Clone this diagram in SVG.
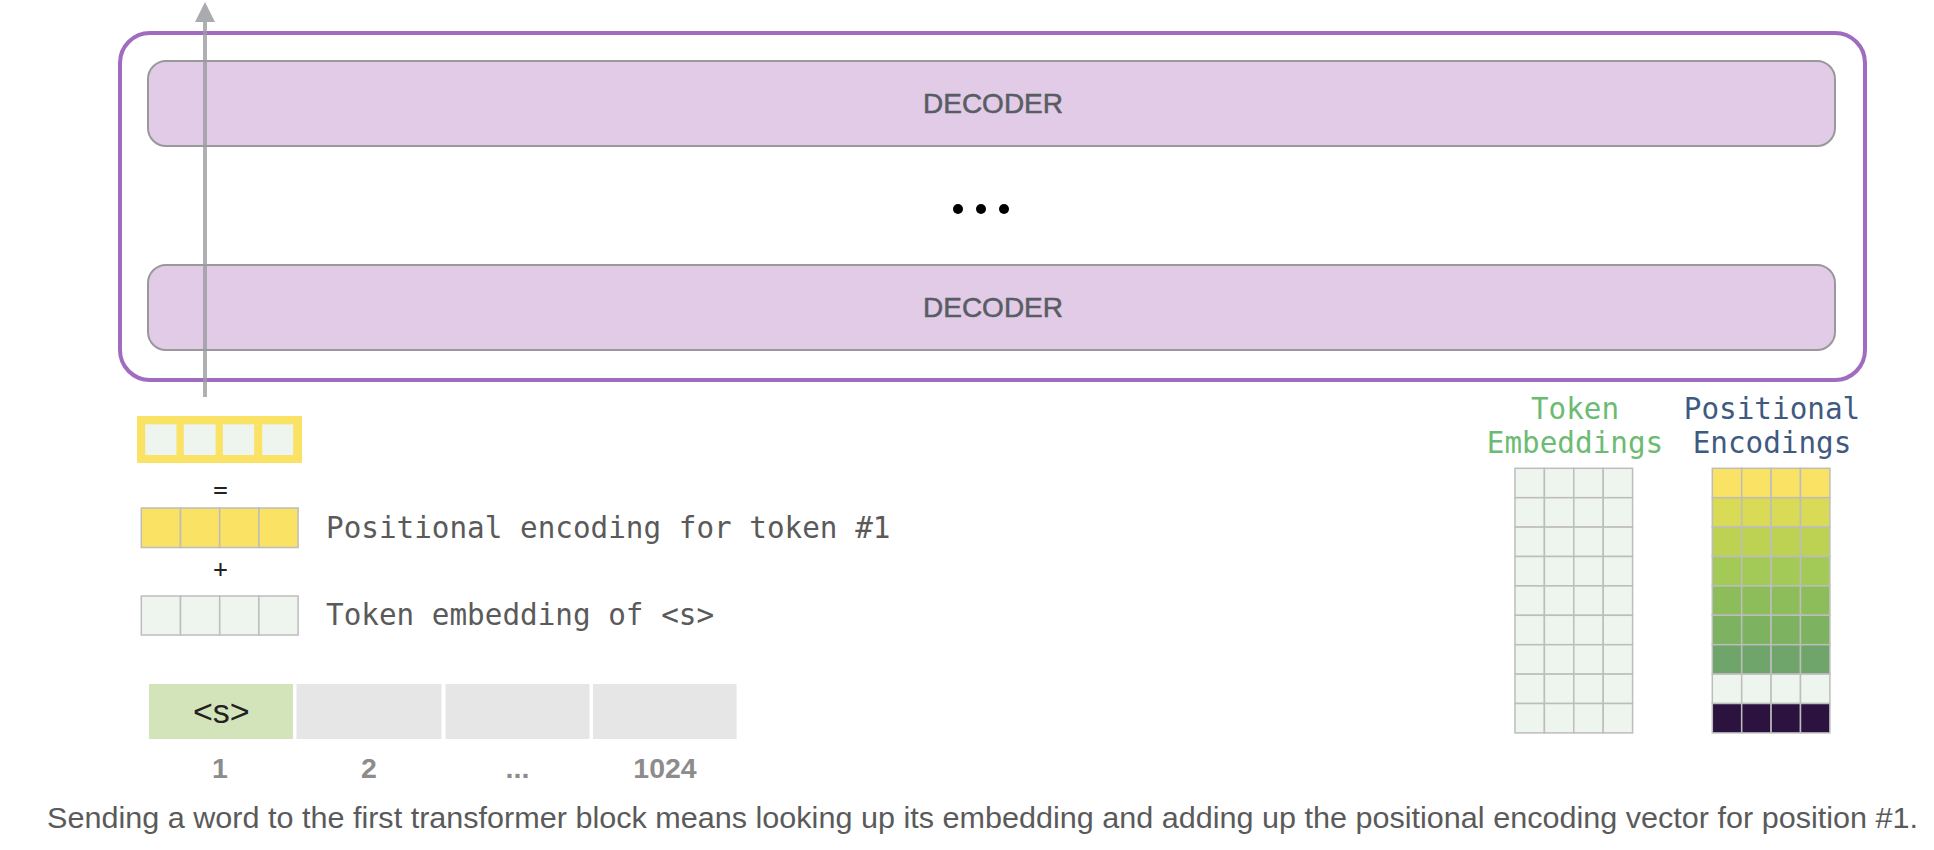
<svg xmlns="http://www.w3.org/2000/svg" width="1934" height="850" viewBox="0 0 1934 850">
<defs>
<style>
.dec{fill:#e1cbe7;stroke:#999;stroke-width:2}
.dectxt{font-family:"Liberation Sans",Arial,sans-serif;font-size:28px;fill:#585c63;stroke:#585c63;stroke-width:0.5;text-anchor:middle}
.mono{font-family:"DejaVu Sans Mono","Liberation Mono",monospace;font-size:29.3px}
.lbl{fill:#5a5a5a}
.num{font-family:"Liberation Sans",Arial,sans-serif;font-size:28.5px;font-weight:bold;fill:#8c8c8c;text-anchor:middle}
.emb{fill:#eef4ee;stroke:#bdbdbd;stroke-width:1.5}
.pe{stroke:#bdbdbd;stroke-width:1.5}
</style>
<marker id="ah" markerWidth="5" markerHeight="5" refX="4" refY="2.5" orient="auto" markerUnits="strokeWidth">
<path d="M0,0 L5,2.5 L0,5 z" fill="#a9abae"/>
</marker>
</defs>
<rect width="1934" height="850" fill="#fff"/>

<g id="stack">
<rect x="120" y="33" width="1745" height="347" rx="30" fill="none" stroke="#a06cc0" stroke-width="4"/>
</g>
<g id="decoder1">
<rect class="dec" x="148" y="61" width="1687" height="85" rx="18"/>
<text class="dectxt" x="993" y="113">DECODER</text>
</g>
<g id="ellipsis">
<circle cx="958" cy="209" r="5" fill="#000"/>
<circle cx="981" cy="209" r="5" fill="#000"/>
<circle cx="1004" cy="209" r="5" fill="#000"/>
</g>
<g id="decoder2">
<rect class="dec" x="148" y="265" width="1687" height="85" rx="18"/>
<text class="dectxt" x="993" y="317">DECODER</text>
</g>

<g id="connectors">
<line x1="205" y1="397" x2="205" y2="6" stroke="#9a9c9f" stroke-opacity="0.8" stroke-width="4" marker-end="url(#ah)"/>
</g>

<g id="output-vector">
<rect x="137" y="416" width="165" height="47" fill="#f9e264"/>
<rect x="145.2" y="424.3" width="31.3" height="30.7" fill="#eef4ee"/>
<rect x="183.8" y="424.3" width="31.8" height="30.7" fill="#eef4ee"/>
<rect x="222.8" y="424.3" width="31.4" height="30.7" fill="#eef4ee"/>
<rect x="262.2" y="424.3" width="31" height="30.7" fill="#eef4ee"/>
</g>
<g id="equals">
<text x="220.5" y="498" font-family="DejaVu Sans Mono,monospace" font-size="24" fill="#222" text-anchor="middle">=</text>
</g>
<g id="pos-enc-vector">
<rect class="pe" x="141.3" y="508" width="39.2" height="39.5" fill="#f9e264"/>
<rect class="pe" x="180.5" y="508" width="39.2" height="39.5" fill="#f9e264"/>
<rect class="pe" x="219.7" y="508" width="39.2" height="39.5" fill="#f9e264"/>
<rect class="pe" x="258.9" y="508" width="39.2" height="39.5" fill="#f9e264"/>
<text class="mono lbl" x="326" y="538">Positional encoding for token #1</text>
</g>
<g id="plus">
<text x="220.5" y="577" font-family="DejaVu Sans Mono,monospace" font-size="24" fill="#222" text-anchor="middle">+</text>
</g>
<g id="token-emb-vector">
<rect class="emb" x="141.3" y="596" width="39.2" height="39" />
<rect class="emb" x="180.5" y="596" width="39.2" height="39" />
<rect class="emb" x="219.7" y="596" width="39.2" height="39" />
<rect class="emb" x="258.9" y="596" width="39.2" height="39" />
<text class="mono lbl" x="326" y="625">Token embedding of &lt;s&gt;</text>
</g>

<g id="token-sequence">
<rect x="149" y="684" width="144" height="55" fill="#d3e4bb"/>
<rect x="296.5" y="684" width="145" height="55" fill="#e6e6e6"/>
<rect x="445.5" y="684" width="144" height="55" fill="#e6e6e6"/>
<rect x="593" y="684" width="143.6" height="55" fill="#e6e6e6"/>
<text x="221.3" y="722.5" font-family="Liberation Sans,Arial,sans-serif" font-size="34" fill="#222" text-anchor="middle">&lt;s&gt;</text>
<text class="num" x="220" y="777.5">1</text>
<text class="num" x="369" y="777.5">2</text>
<text class="num" x="517.5" y="777.5">...</text>
<text class="num" x="665" y="777.5">1024</text>
</g>

<g id="token-embeddings">
<text class="mono" x="1575" y="419" fill="#6cbb73" text-anchor="middle">Token</text>
<text class="mono" x="1575" y="453" fill="#6cbb73" text-anchor="middle">Embeddings</text>
<g class="emb">
<rect x="1515" y="468.3" width="29.4" height="29.4"/><rect x="1544.4" y="468.3" width="29.4" height="29.4"/><rect x="1573.8" y="468.3" width="29.4" height="29.4"/><rect x="1603.2" y="468.3" width="29.4" height="29.4"/>
<rect x="1515" y="497.7" width="29.4" height="29.4"/><rect x="1544.4" y="497.7" width="29.4" height="29.4"/><rect x="1573.8" y="497.7" width="29.4" height="29.4"/><rect x="1603.2" y="497.7" width="29.4" height="29.4"/>
<rect x="1515" y="527.1" width="29.4" height="29.4"/><rect x="1544.4" y="527.1" width="29.4" height="29.4"/><rect x="1573.8" y="527.1" width="29.4" height="29.4"/><rect x="1603.2" y="527.1" width="29.4" height="29.4"/>
<rect x="1515" y="556.5" width="29.4" height="29.4"/><rect x="1544.4" y="556.5" width="29.4" height="29.4"/><rect x="1573.8" y="556.5" width="29.4" height="29.4"/><rect x="1603.2" y="556.5" width="29.4" height="29.4"/>
<rect x="1515" y="585.9" width="29.4" height="29.4"/><rect x="1544.4" y="585.9" width="29.4" height="29.4"/><rect x="1573.8" y="585.9" width="29.4" height="29.4"/><rect x="1603.2" y="585.9" width="29.4" height="29.4"/>
<rect x="1515" y="615.3" width="29.4" height="29.4"/><rect x="1544.4" y="615.3" width="29.4" height="29.4"/><rect x="1573.8" y="615.3" width="29.4" height="29.4"/><rect x="1603.2" y="615.3" width="29.4" height="29.4"/>
<rect x="1515" y="644.7" width="29.4" height="29.4"/><rect x="1544.4" y="644.7" width="29.4" height="29.4"/><rect x="1573.8" y="644.7" width="29.4" height="29.4"/><rect x="1603.2" y="644.7" width="29.4" height="29.4"/>
<rect x="1515" y="674.1" width="29.4" height="29.4"/><rect x="1544.4" y="674.1" width="29.4" height="29.4"/><rect x="1573.8" y="674.1" width="29.4" height="29.4"/><rect x="1603.2" y="674.1" width="29.4" height="29.4"/>
<rect x="1515" y="703.5" width="29.4" height="29.4"/><rect x="1544.4" y="703.5" width="29.4" height="29.4"/><rect x="1573.8" y="703.5" width="29.4" height="29.4"/><rect x="1603.2" y="703.5" width="29.4" height="29.4"/>
</g>
</g>

<g id="positional-encodings">
<text class="mono" x="1772" y="419" fill="#3f5a80" text-anchor="middle">Positional</text>
<text class="mono" x="1772" y="453" fill="#3f5a80" text-anchor="middle">Encodings</text>
<g class="pe">
<g fill="#f9e264"><rect x="1712.3" y="468.3" width="29.4" height="29.4"/><rect x="1741.7" y="468.3" width="29.4" height="29.4"/><rect x="1771.1" y="468.3" width="29.4" height="29.4"/><rect x="1800.5" y="468.3" width="29.4" height="29.4"/></g>
<g fill="#d9da56"><rect x="1712.3" y="497.7" width="29.4" height="29.4"/><rect x="1741.7" y="497.7" width="29.4" height="29.4"/><rect x="1771.1" y="497.7" width="29.4" height="29.4"/><rect x="1800.5" y="497.7" width="29.4" height="29.4"/></g>
<g fill="#bdd253"><rect x="1712.3" y="527.1" width="29.4" height="29.4"/><rect x="1741.7" y="527.1" width="29.4" height="29.4"/><rect x="1771.1" y="527.1" width="29.4" height="29.4"/><rect x="1800.5" y="527.1" width="29.4" height="29.4"/></g>
<g fill="#a3c956"><rect x="1712.3" y="556.5" width="29.4" height="29.4"/><rect x="1741.7" y="556.5" width="29.4" height="29.4"/><rect x="1771.1" y="556.5" width="29.4" height="29.4"/><rect x="1800.5" y="556.5" width="29.4" height="29.4"/></g>
<g fill="#8dbd5a"><rect x="1712.3" y="585.9" width="29.4" height="29.4"/><rect x="1741.7" y="585.9" width="29.4" height="29.4"/><rect x="1771.1" y="585.9" width="29.4" height="29.4"/><rect x="1800.5" y="585.9" width="29.4" height="29.4"/></g>
<g fill="#7db261"><rect x="1712.3" y="615.3" width="29.4" height="29.4"/><rect x="1741.7" y="615.3" width="29.4" height="29.4"/><rect x="1771.1" y="615.3" width="29.4" height="29.4"/><rect x="1800.5" y="615.3" width="29.4" height="29.4"/></g>
<g fill="#6fa56a"><rect x="1712.3" y="644.7" width="29.4" height="29.4"/><rect x="1741.7" y="644.7" width="29.4" height="29.4"/><rect x="1771.1" y="644.7" width="29.4" height="29.4"/><rect x="1800.5" y="644.7" width="29.4" height="29.4"/></g>
<g fill="#eef4ee"><rect x="1712.3" y="674.1" width="29.4" height="29.4"/><rect x="1741.7" y="674.1" width="29.4" height="29.4"/><rect x="1771.1" y="674.1" width="29.4" height="29.4"/><rect x="1800.5" y="674.1" width="29.4" height="29.4"/></g>
<g fill="#2c133f"><rect x="1712.3" y="703.5" width="29.4" height="29.4"/><rect x="1741.7" y="703.5" width="29.4" height="29.4"/><rect x="1771.1" y="703.5" width="29.4" height="29.4"/><rect x="1800.5" y="703.5" width="29.4" height="29.4"/></g>
</g>
</g>

<g id="caption">
<text x="47" y="828" font-family="Liberation Sans,Arial,sans-serif" font-size="29" fill="#5a5a5a" textLength="1871" lengthAdjust="spacingAndGlyphs">Sending a word to the first transformer block means looking up its embedding and adding up the positional encoding vector for position #1.</text>
</g>
</svg>
